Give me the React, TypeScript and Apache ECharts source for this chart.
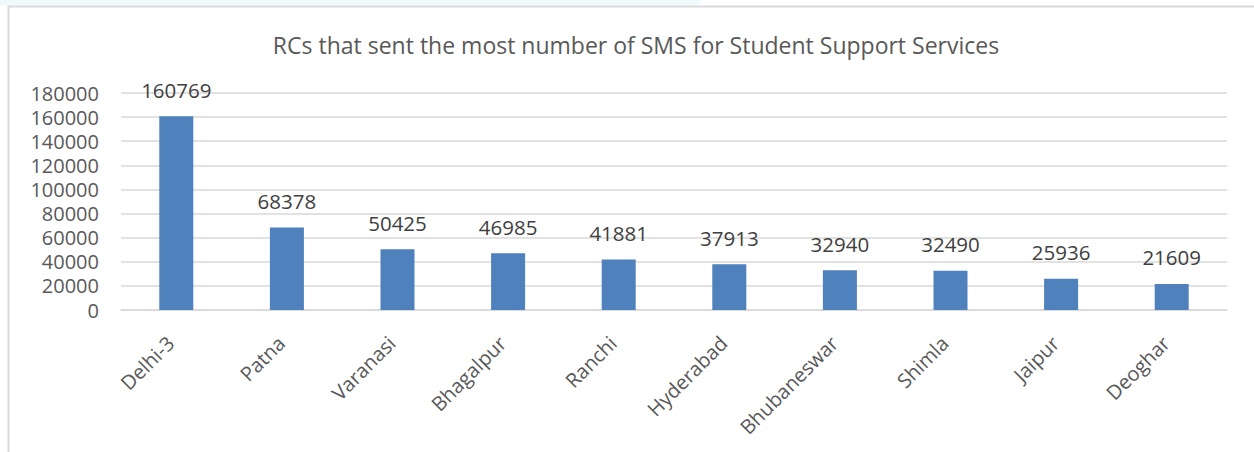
import React, { useEffect, useRef } from "react";
import * as echarts from "echarts";

const categories = ["Delhi-3", "Patna", "Varanasi", "Bhagalpur", "Ranchi", "Hyderabad", "Bhubaneswar", "Shimla", "Jaipur", "Deoghar"];
const smsCounts = [160769, 68378, 50425, 46985, 41881, 37913, 32940, 32490, 25936, 21609];
const titleText = "RCs that sent the most number of SMS for Student Support Services";
const yMin = 0;
const yMax = 180000;
const yInterval = 20000;

const FONT = "'Open Sans', sans-serif";
const TEXT = "#595959";

export default function App() {
  const ref = useRef<HTMLDivElement>(null);
  useEffect(() => {
    if (!ref.current) return;
    const chart = echarts.init(ref.current, null, { renderer: "svg" });
    chart.setOption({
      animation: false,
      backgroundColor: "#ffffff",
      textStyle: { fontFamily: FONT },
      title: {
        text: titleText,
        left: 631,
        textAlign: "center",
        top: 28,
        textStyle: { fontFamily: FONT, fontSize: 23, fontWeight: "normal", color: TEXT },
      },
      graphic: [
        { type: "rect", shape: { x: 0, y: 0, width: 700, height: 5 }, style: { fill: "#eefafc" }, silent: true },
        { type: "rect", shape: { x: 8.5, y: 6.5, width: 1260, height: 460 }, style: { fill: "none", stroke: "#d9d9d9", lineWidth: 2 }, silent: true },
      ],
      grid: { left: 121, right: 27, top: 93, bottom: 142, containLabel: false },
      xAxis: {
        type: "category",
        data: categories,
        axisLine: { show: true, lineStyle: { color: "#d9d9d9", width: 1.5 } },
        axisTick: { show: false },
        axisLabel: {
          rotate: 45,
          margin: 24,
          padding: [0, 8, 0, 0],
          fontFamily: FONT,
          fontSize: 20,
          color: TEXT,
          interval: 0,
        },
      },
      yAxis: {
        type: "value",
        min: yMin,
        max: yMax,
        interval: yInterval,
        axisLine: { show: false },
        axisTick: { show: false },
        splitLine: { lineStyle: { color: "#d9d9d9", width: 1.5 } },
        axisLabel: {
          margin: 22,
          fontFamily: FONT,
          fontSize: 20,
          lineHeight: 20,
          color: TEXT,
          formatter: (v: number) => String(v),
        },
      },
      series: [
        {
          type: "bar",
          data: smsCounts,
          barWidth: 34,
          itemStyle: { color: "#4f81bd" },
          label: {
            show: true,
            position: "top",
            distance: 16,
            fontFamily: FONT,
            fontSize: 20.5,
            color: "#404040",
          },
        },
      ],
    });
    return () => chart.dispose();
  }, []);
  return <div ref={ref} style={{ position: "fixed", left: 0, top: 0, width: 1254, height: 452 }} />;
}
